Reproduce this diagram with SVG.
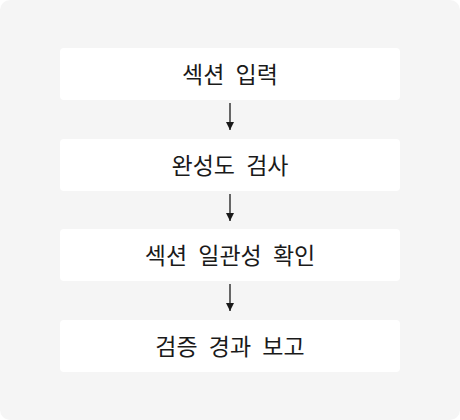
<svg xmlns="http://www.w3.org/2000/svg" width="460" height="420" viewBox="0 0 460 420">
<style>
.bg{fill:#f5f5f5}
.box{fill:#ffffff}
.lbl{font-family:"Noto Sans CJK KR","Noto Sans",sans-serif;font-size:23px;word-spacing:6px;fill:#1a1a1a;text-anchor:middle;dominant-baseline:central}
.edge{stroke:#1a1a1a;stroke-width:1.3;fill:none}
</style>
<defs>
<marker id="ah" viewBox="0 0 10 10" refX="10" refY="5" markerWidth="8" markerHeight="8" markerUnits="userSpaceOnUse" orient="auto">
<path d="M0,0 L10,5 L0,10 z" fill="#1a1a1a"/>
</marker>
</defs>
<rect class="bg" x="0" y="0" width="460" height="420" rx="10"/>
<g id="n1"><rect class="box" x="60" y="48" width="340" height="52" rx="4"/><text class="lbl" x="230" y="73">섹션 입력</text></g>
<g id="n2"><rect class="box" x="60" y="139" width="340" height="52" rx="4"/><text class="lbl" x="230" y="164">완성도 검사</text></g>
<g id="n3"><rect class="box" x="60" y="229" width="340" height="52" rx="4"/><text class="lbl" x="230" y="254">섹션 일관성 확인</text></g>
<g id="n4"><rect class="box" x="60" y="320" width="340" height="52" rx="4"/><text class="lbl" x="230" y="345">검증 경과 보고</text></g>
<g id="edges">
<line class="edge" x1="230" y1="103" x2="230" y2="130" marker-end="url(#ah)"/>
<line class="edge" x1="230" y1="194" x2="230" y2="221" marker-end="url(#ah)"/>
<line class="edge" x1="230" y1="284" x2="230" y2="311" marker-end="url(#ah)"/>
</g>
</svg>
